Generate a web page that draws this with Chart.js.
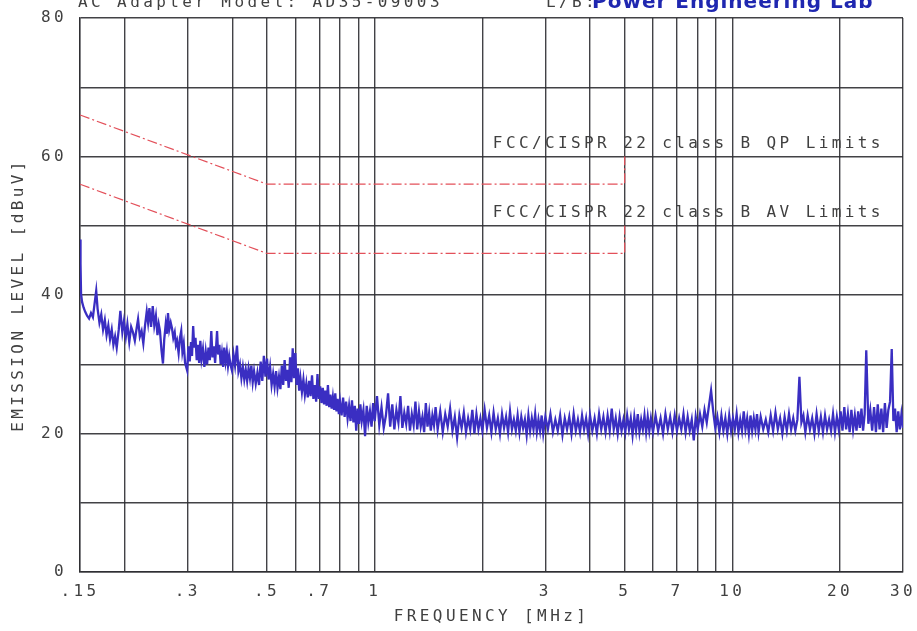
<!DOCTYPE html>
<html>
<head>
<meta charset="utf-8">
<title>Conducted Emission Scan</title>
<script src="https://cdn.jsdelivr.net/npm/chart.js@4.4.1/dist/chart.umd.min.js"></script>
<style>
    html, body { margin: 0; padding: 0; background: #fff; }
    #wrap { width: 917px; height: 631px; position: relative; }
</style>
</head>
<body>
<div id="wrap"><canvas id="emiChart"></canvas></div>
<script>
// Header / labels
const headerLeft = 'AC Adapter Model: AD35-09003';
const headerLab = 'L/B:';
const headerStamp = 'Power Engineering Lab';
const qpLabel = 'FCC/CISPR 22 class B QP Limits';
const avLabel = 'FCC/CISPR 22 class B AV Limits';

// Axis ticks (frequency grid, MHz) and the ones that carry a label
const freqGrid = [0.15, 0.2, 0.3, 0.4, 0.5, 0.6, 0.7, 0.8, 0.9, 1, 2, 3, 4, 5, 6, 7, 8, 9, 10, 20, 30];
const freqLabels = { 0.15: '.15', 0.3: '.3', 0.5: '.5', 0.7: '.7', 1: '1', 3: '3', 5: '5', 7: '7', 10: '10', 20: '20', 30: '30' };
const levelTicks = [0, 10, 20, 30, 40, 50, 60, 70, 80];
const levelLabels = [0, 20, 40, 60, 80];

// Limit lines (the 5-30 MHz part sits on the grid line, drawn as grid)
const qpFreq = [0.15, 0.5, 5, 5];
const qpLevel = [66, 56, 56, 60];
const avFreq = [0.15, 0.5, 5, 5];
const avLevel = [56, 46, 46, 50];

// Measured trace below 1 MHz
const scanFreqLow = [
    0.150, 0.1505, 0.151, 0.152, 0.1535, 0.155, 0.157, 0.159, 0.161, 0.163,
    0.165, 0.1665, 0.168, 0.170, 0.172, 0.174, 0.176, 0.178, 0.180, 0.182,
    0.184, 0.186, 0.188, 0.190, 0.1925, 0.1945, 0.197, 0.199, 0.2015, 0.2035,
    0.206, 0.2085, 0.211, 0.2135, 0.216, 0.218, 0.2205, 0.223, 0.2255, 0.228,
    0.2305, 0.2325, 0.2345, 0.237, 0.2396, 0.242, 0.2445, 0.247, 0.249, 0.251,
    0.2535, 0.2559, 0.258, 0.2605, 0.2625, 0.2643, 0.2665, 0.269, 0.2712, 0.2735,
    0.276, 0.2782, 0.2802, 0.283, 0.2855, 0.2878, 0.290, 0.2925, 0.295, 0.299,
    0.3015, 0.304, 0.3065, 0.3085, 0.3108, 0.313, 0.3155, 0.318, 0.3205, 0.323,
    0.3255, 0.328, 0.331, 0.334, 0.337, 0.340, 0.343, 0.346, 0.3493, 0.352,
    0.355, 0.358, 0.3625, 0.365, 0.368, 0.371, 0.374, 0.377, 0.3797, 0.383,
    0.386, 0.389, 0.392, 0.395, 0.399, 0.403, 0.407, 0.4121, 0.416, 0.420,
    0.424, 0.428, 0.432, 0.436, 0.440, 0.444, 0.448, 0.452, 0.456, 0.460,
    0.465, 0.470, 0.475, 0.480, 0.485, 0.490, 0.495, 0.500, 0.505, 0.510,
    0.515, 0.520, 0.525, 0.530, 0.535, 0.540, 0.545, 0.550, 0.555, 0.560,
    0.565, 0.570, 0.575, 0.580, 0.585, 0.590, 0.595, 0.600, 0.605, 0.610,
    0.615, 0.620, 0.626, 0.632, 0.638, 0.644, 0.650, 0.656, 0.662, 0.668,
    0.674, 0.680, 0.686, 0.692, 0.698, 0.704, 0.710, 0.716, 0.722, 0.728,
    0.734, 0.740, 0.746, 0.752, 0.758, 0.764, 0.770, 0.776, 0.782, 0.788,
    0.794, 0.800, 0.808, 0.816, 0.824, 0.832, 0.840, 0.848, 0.856, 0.864,
    0.872, 0.880, 0.888, 0.896, 0.904, 0.912, 0.920, 0.930, 0.940, 0.950,
    0.960, 0.970, 0.980, 0.990
];
const scanLevelLow = [
    48.0, 44.5, 40.2, 39.0, 38.2, 37.6, 37.0, 36.6, 37.4, 36.8,
    39.0, 40.6, 38.0, 36.0, 37.2, 35.0, 36.4, 34.2, 35.6, 33.6,
    35.0, 32.8, 34.0, 32.4, 35.0, 37.7, 34.6, 36.2, 34.0, 35.8,
    33.2, 35.4, 34.6, 33.4, 35.2, 36.5, 34.0, 34.8, 33.0, 35.6,
    37.6, 36.0, 38.1, 35.4, 38.4, 35.6, 37.0, 34.2, 35.8, 34.8,
    32.0, 30.1, 33.6, 35.8, 34.4, 37.4, 35.0, 36.0, 35.2, 33.8,
    34.6, 32.8, 33.4, 31.6, 33.8, 34.8, 31.8, 33.0, 30.2, 29.1,
    32.6, 30.4, 33.2, 31.2, 35.5, 32.4, 33.8, 30.6, 32.8, 30.2,
    33.4, 30.8, 32.2, 29.6, 31.8, 30.0, 32.4, 30.6, 34.8, 31.0,
    32.6, 30.2, 34.8, 31.4, 32.8, 30.0, 31.6, 29.6, 32.4, 30.4,
    31.8, 29.8, 31.2, 30.0, 29.1, 31.4, 29.8, 32.7, 29.0, 30.0,
    28.0, 29.6, 27.8, 29.2, 27.6, 29.4, 28.0, 29.8, 27.4, 29.0,
    27.2, 28.8, 27.0, 30.4, 27.6, 31.2, 28.2, 30.8, 27.8, 29.6,
    27.0, 28.6, 26.8, 29.0, 26.6, 28.2, 26.4, 29.8, 27.0, 30.6,
    27.6, 29.2, 26.6, 31.0, 27.4, 32.3, 28.0, 31.6, 27.0, 29.4,
    26.2, 28.0, 26.0, 27.8, 25.6, 27.2, 25.2, 27.6, 25.4, 28.4,
    25.0, 27.0, 24.6, 28.6, 25.0, 26.8, 24.4, 26.6, 24.2, 26.2,
    24.0, 27.0, 23.8, 25.6, 23.6, 25.2, 23.4, 25.8, 23.2, 25.0,
    22.8, 24.6, 22.6, 25.2, 22.4, 24.6, 22.2, 24.0, 21.8, 24.8,
    21.6, 24.0, 20.4, 23.6, 21.4, 24.2, 21.8, 23.4, 19.6, 24.0,
    21.6, 23.2, 21.0, 24.4
];

// Measured trace from 1 to 30 MHz
const scanFreqHigh = [
    1.000, 1.015, 1.030, 1.045, 1.060, 1.075, 1.090, 1.105, 1.120, 1.135,
    1.150, 1.165, 1.180, 1.195, 1.210, 1.225, 1.240, 1.255, 1.270, 1.285,
    1.300, 1.315, 1.330, 1.345, 1.360, 1.375, 1.390, 1.405, 1.420, 1.435,
    1.450, 1.465, 1.480,
    1.500, 1.525, 1.550, 1.575, 1.600, 1.625, 1.650, 1.675, 1.700, 1.725,
    1.750, 1.775, 1.800, 1.825, 1.850, 1.875, 1.900, 1.925, 1.950, 1.975,
    2.00, 2.03, 2.06, 2.09, 2.12, 2.15, 2.18, 2.21, 2.24, 2.27,
    2.30, 2.33, 2.36, 2.39, 2.42, 2.45, 2.48, 2.51, 2.54, 2.57,
    2.60, 2.63, 2.66, 2.69, 2.72, 2.75, 2.78, 2.81, 2.84, 2.87,
    2.90, 2.93, 2.96,
    3.00, 3.05, 3.10, 3.15, 3.20, 3.25, 3.30, 3.35, 3.40, 3.45,
    3.50, 3.55, 3.60, 3.65, 3.70, 3.75, 3.80, 3.85, 3.90, 3.95,
    4.00, 4.06, 4.12, 4.18, 4.24, 4.30, 4.36, 4.42, 4.48, 4.54,
    4.60, 4.66, 4.72, 4.78, 4.84, 4.90, 4.96, 5.02, 5.08, 5.14,
    5.20, 5.26, 5.32, 5.38, 5.44, 5.50, 5.56, 5.62, 5.68, 5.74,
    5.80, 5.86, 5.92,
    6.0, 6.1, 6.2, 6.3, 6.4, 6.5, 6.6, 6.7, 6.8, 6.9,
    7.0, 7.1, 7.2, 7.3, 7.4, 7.5, 7.6, 7.7, 7.8, 7.9,
    8.00, 8.12, 8.24, 8.36, 8.48, 8.60, 8.72, 8.84, 8.96, 9.08,
    9.20, 9.32, 9.44, 9.56, 9.68, 9.80, 9.92, 10.04, 10.16, 10.28,
    10.40, 10.52, 10.64, 10.76, 10.88, 11.00, 11.12, 11.24, 11.36, 11.48,
    11.60, 11.72, 11.84,
    12.0, 12.2, 12.4, 12.6, 12.8, 13.0, 13.2, 13.4, 13.6, 13.8,
    14.0, 14.2, 14.4, 14.6, 14.8, 15.0, 15.2, 15.4, 15.6, 15.8,
    16.00, 16.24, 16.48, 16.72, 16.96, 17.20, 17.44, 17.68, 17.92, 18.16,
    18.40, 18.64, 18.88, 19.12, 19.36, 19.60, 19.84, 20.08, 20.32, 20.56,
    20.80, 21.04, 21.28, 21.52, 21.76, 22.00, 22.24, 22.48, 22.72, 22.96,
    23.20, 23.44, 23.68,
    24.0, 24.3, 24.6, 24.9, 25.2, 25.5, 25.8, 26.1, 26.4, 26.7,
    27.0, 27.3, 27.6, 27.9, 28.2, 28.5, 28.8, 29.1, 29.4, 29.7,
    30.0
];
const scanLevelHigh = [
    21.8, 25.4, 21.2, 23.8, 20.8, 22.6, 25.8, 21.0, 24.2, 20.6,
    23.4, 21.6, 25.4, 20.8, 23.0, 21.4, 24.0, 20.4, 22.8, 21.2,
    24.6, 20.6, 23.2, 21.0, 22.4, 20.2, 24.4, 21.0, 23.0, 20.4,
    22.6, 21.2, 23.8,
    20.6, 23.2, 20.2, 22.8, 21.0, 23.6, 20.4, 22.4, 19.4, 22.6,
    20.8, 23.0, 20.2, 22.2, 20.6, 23.4, 20.0, 22.8, 20.6, 22.2,
    20.4, 23.4, 20.8, 22.6, 20.2, 23.0, 20.6, 22.2, 20.0, 22.8,
    20.8, 22.4, 20.2, 23.2, 20.6, 22.0, 20.4, 22.6, 20.2, 22.4,
    20.8, 22.0, 19.8, 22.6, 20.4, 22.2, 20.6, 22.8, 20.2, 22.0,
    20.4, 22.6, 20.0,
    22.4, 20.6, 22.8, 20.2, 22.0, 20.4, 22.6, 19.8, 22.2, 20.6,
    22.4, 20.0, 22.8, 20.4, 22.0, 20.2, 22.6, 20.6, 22.2, 20.0,
    22.6, 20.4, 22.2, 20.0, 22.8, 20.6, 22.4, 20.2, 22.6, 20.4,
    23.6, 20.6, 22.2, 20.0, 22.4, 20.4, 22.0, 20.2, 22.6, 20.6,
    22.2, 19.8, 22.4, 20.4, 22.8, 20.2, 22.0, 20.6, 22.6, 20.2,
    22.4, 20.4, 22.2,
    20.2, 22.6, 20.4, 22.2, 20.0, 22.8, 20.6, 22.4, 20.2, 22.6,
    20.4, 22.2, 20.6, 22.8, 20.2, 22.4, 20.4, 22.0, 19.0, 22.4,
    20.6, 22.8, 21.0, 23.4, 21.6, 24.0, 26.2, 23.2, 20.8, 22.4,
    20.2, 22.6, 20.4, 22.2, 20.0, 22.6, 20.4, 22.2, 20.6, 22.8,
    20.2, 22.0, 20.4, 23.2, 20.6, 22.2, 20.0, 22.6, 20.4, 22.2,
    20.6, 22.8, 20.2,
    22.4, 20.6, 22.0, 20.2, 22.6, 20.4, 23.0, 20.6, 22.2, 20.0,
    22.4, 20.4, 22.8, 20.6, 22.2, 20.4, 22.0, 28.2, 21.6, 22.6,
    20.2, 22.6, 20.6, 22.2, 20.0, 22.8, 20.4, 22.4, 20.2, 22.6,
    20.6, 22.0, 20.4, 22.8, 20.2, 22.4, 20.6, 23.2, 20.4, 23.8,
    20.6, 22.8, 20.2, 23.4, 20.6, 22.6, 20.4, 23.2, 20.8, 23.6,
    20.4, 22.8, 32.0,
    21.4, 23.4, 20.4, 23.8, 20.2, 24.2, 20.6, 23.6, 20.2, 24.4,
    20.8, 23.4, 24.6, 32.2, 21.8, 23.6, 20.2, 23.2, 20.6, 22.8,
    20.8
];

const textColor = '#404040';
const gridColor = 'rgba(45, 45, 50, 0.9)';
const limitColor = '#e3505a';
const traceColor = '#3a2ec2';
const plotFont = { family: '"DejaVu Sans Mono", "Liberation Mono", monospace', size: 16 };

const toPoints = (xs, ys) => xs.map((x, i) => ({ x: x, y: ys[i] }));

// Plotter style text: wide letter spacing, header and limit captions
const plotterText = {
    id: 'plotterText',
    beforeDraw(chart) {
        chart.ctx.letterSpacing = '3.4px';
    },
    afterDraw(chart) {
        const ctx = chart.ctx;
        const x = chart.scales.x;
        const y = chart.scales.y;
        ctx.save();
        ctx.letterSpacing = '3.4px';
        ctx.font = '16px "DejaVu Sans Mono", monospace';
        ctx.fillStyle = textColor;
        ctx.textBaseline = 'alphabetic';
        ctx.textAlign = 'left';
        ctx.fillText(headerLeft, 78, 7);
        ctx.fillText(headerLab, 546, 7);
        ctx.textBaseline = 'middle';
        ctx.fillText(qpLabel, x.getPixelForValue(2.14), y.getPixelForValue(61.8));
        ctx.fillText(avLabel, x.getPixelForValue(2.14), y.getPixelForValue(51.8));
        ctx.letterSpacing = '1px';
        ctx.textBaseline = 'alphabetic';
        ctx.font = 'bold 20px "DejaVu Sans", sans-serif';
        ctx.fillStyle = '#1f27b0';
        ctx.fillText(headerStamp, 592, 8);
        ctx.restore();
    }
};

function initChart() {
    const ctx = document.getElementById('emiChart').getContext('2d');
    return new Chart(ctx, {
        type: 'line',
        data: {
            datasets: [
                {
                    label: 'QP limit',
                    data: toPoints(qpFreq, qpLevel),
                    borderColor: limitColor,
                    borderWidth: 1.2,
                    borderDash: [10, 3, 2, 3],
                    pointRadius: 0,
                    tension: 0
                },
                {
                    label: 'AV limit',
                    data: toPoints(avFreq, avLevel),
                    borderColor: limitColor,
                    borderWidth: 1.2,
                    borderDash: [10, 3, 2, 3],
                    pointRadius: 0,
                    tension: 0
                },
                {
                    label: 'Emission',
                    data: toPoints(scanFreqLow.concat(scanFreqHigh), scanLevelLow.concat(scanLevelHigh)),
                    borderColor: traceColor,
                    borderWidth: 2.3,
                    pointRadius: 0,
                    tension: 0
                }
            ]
        },
        options: {
            responsive: true,
            maintainAspectRatio: false,
            animation: false,
            devicePixelRatio: 1,
            layout: { padding: { top: 18, right: 14, left: 0, bottom: 0 } },
            plugins: {
                legend: { display: false },
                tooltip: { enabled: false }
            },
            scales: {
                x: {
                    type: 'logarithmic',
                    min: 0.15,
                    max: 30,
                    afterBuildTicks: (scale) => {
                        scale.ticks = freqGrid.map(v => ({ value: v }));
                    },
                    afterFit: (scale) => {
                        scale.height = 59;
                        scale.paddingLeft = 0;
                        scale.paddingRight = 0;
                    },
                    ticks: {
                        autoSkip: false,
                        maxRotation: 0,
                        padding: 10,
                        color: textColor,
                        font: plotFont,
                        callback: (value) => freqLabels[value] || ''
                    },
                    grid: { color: gridColor, lineWidth: 1.4, drawTicks: false },
                    border: { color: gridColor, width: 1.4 },
                    title: {
                        display: true,
                        text: 'FREQUENCY [MHz]',
                        color: textColor,
                        font: plotFont,
                        padding: { top: 0, bottom: 5 }
                    }
                },
                y: {
                    type: 'linear',
                    min: 0,
                    max: 80,
                    afterBuildTicks: (scale) => {
                        scale.ticks = levelTicks.map(v => ({ value: v }));
                    },
                    afterFit: (scale) => {
                        scale.width = 80;
                        scale.paddingTop = 0;
                        scale.paddingBottom = 0;
                    },
                    ticks: {
                        padding: 13,
                        color: textColor,
                        font: plotFont,
                        callback: (value) => levelLabels.includes(value) ? String(value) : ''
                    },
                    grid: { color: gridColor, lineWidth: 1.4, drawTicks: false },
                    border: { color: gridColor, width: 1.4 },
                    title: {
                        display: true,
                        text: 'EMISSION LEVEL [dBuV]',
                        color: textColor,
                        font: plotFont,
                        padding: { top: 9, bottom: 0 }
                    }
                }
            }
        },
        plugins: [plotterText]
    });
}

document.addEventListener('DOMContentLoaded', () => {
    initChart();
});
</script>
</body>
</html>
